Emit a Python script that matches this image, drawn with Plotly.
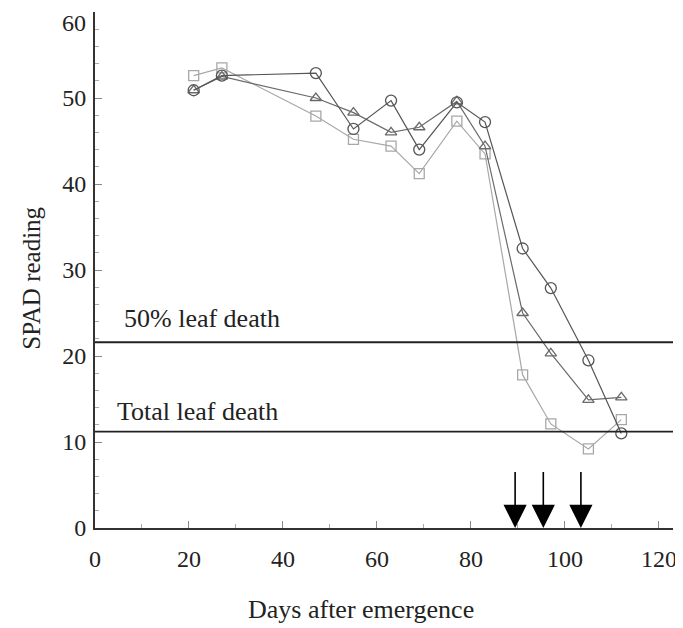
import plotly.graph_objects as go

# ---- data ----
days = [21, 27, 47, 55, 63, 69, 77, 83, 91, 97, 105, 112]
spad_circle = [50.9, 52.6, 52.9, 46.4, 49.7, 44.0, 49.5, 47.2, 32.5, 27.9, 19.5, 11.0]
spad_triangle = [50.9, 52.5, 50.0, 48.3, 46.0, 46.6, 49.6, 44.4, 25.0, 20.3, 14.9, 15.2]
spad_square = [52.6, 53.5, 47.9, 45.2, 44.4, 41.2, 47.3, 43.5, 17.8, 12.1, 9.2, 12.6]
arrow_days = [89.4, 95.4, 103.4]
leaf_death_50 = 21.6
leaf_death_total = 11.2
x_ticks = [0, 20, 40, 60, 80, 100, 120]
y_ticks = [0, 10, 20, 30, 40, 50, 60]
y_top_label = "60"

FONT = "Liberation Serif, Times New Roman, serif"

fig = go.Figure()

series = [
    (spad_square, "square-open", "#a8a8a8", 10),
    (spad_triangle, "triangle-up-open", "#6a6a6a", 10),
    (spad_circle, "circle-open", "#555555", 11),
]
for vals, sym, col, sz in series:
    fig.add_trace(go.Scatter(
        x=days, y=vals, mode="lines+markers",
        line=dict(color=col, width=1.2),
        marker=dict(symbol=sym, size=sz, color=col, line=dict(width=1.3, color=col)),
        showlegend=False, cliponaxis=False,
    ))

# horizontal reference lines
for yv in (leaf_death_50, leaf_death_total):
    fig.add_shape(type="line", xref="paper", yref="y", x0=0, x1=1, y0=yv, y1=yv,
                  line=dict(color="#222222", width=1.8))

annotations = [
    dict(x=22.7, y=leaf_death_50 + 2.8, xref="x", yref="y", text="50% leaf death",
         showarrow=False, font=dict(family=FONT, size=26, color="#222")),
    dict(x=21.8, y=leaf_death_total + 2.3, xref="x", yref="y", text="Total leaf death",
         showarrow=False, font=dict(family=FONT, size=26, color="#222")),
    dict(x=56.6, y=-0.157, xref="x", yref="paper", text="Days after emergence",
         xanchor="center", yanchor="middle",
         showarrow=False, font=dict(family=FONT, size=26, color="#222")),
    dict(x=-0.109, y=0.485, xref="paper", yref="paper", text="SPAD reading", textangle=-90,
         xanchor="center", yanchor="middle",
         showarrow=False, font=dict(family=FONT, size=25, color="#222")),
    # top y tick label, nudged down so it stays inside the figure
    dict(x=0, y=y_ticks[-1], xref="paper", yref="y", text=y_top_label,
         xanchor="right", yanchor="top", xshift=-7, yshift=4,
         showarrow=False, font=dict(family=FONT, size=24, color="#222")),
]
for d in arrow_days:
    annotations.append(dict(
        x=d, y=0, xref="x", yref="y", ax=d, ay=6.7, axref="x", ayref="y",
        showarrow=True, arrowhead=2, arrowsize=2.9, arrowwidth=1.6,
        arrowcolor="#000", text=""))

fig.update_layout(
    width=675, height=620,
    margin=dict(l=87, r=10, t=4, b=100, autoexpand=False),
    plot_bgcolor="white", paper_bgcolor="white",
    font=dict(family=FONT, size=24, color="#222"),
    annotations=annotations,
    xaxis=dict(range=[0, 123], tickvals=x_ticks, ticks="inside", ticklen=7,
               tickcolor="#888", tickwidth=1.2, automargin=False,
               ticklabeloverflow="allow",
               minor=dict(dtick=10, ticks="inside", ticklen=4, tickcolor="#aaa"),
               showline=True, linecolor="#333", linewidth=2, showgrid=False,
               zeroline=False, ticklabelstandoff=8),
    yaxis=dict(range=[0, 60], tickvals=y_ticks,
               ticktext=[str(v) for v in y_ticks[:-1]] + [""],
               ticks="inside", ticklen=7,
               tickcolor="#888", tickwidth=1.2, automargin=False,
               ticklabeloverflow="allow",
               minor=dict(dtick=2, ticks="inside", ticklen=4, tickcolor="#aaa"),
               showline=True, linecolor="#333", linewidth=2, showgrid=False,
               zeroline=False, ticklabelstandoff=2),
)

fig.write_html("out.html")
